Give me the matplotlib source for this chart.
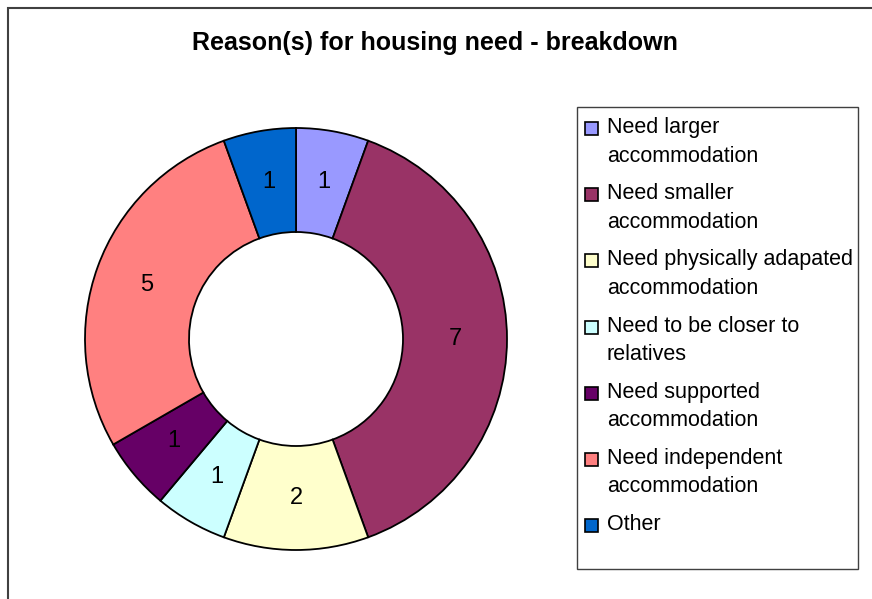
import numpy as np
import matplotlib.pyplot as plt
from matplotlib.patches import Rectangle

plt.rcParams['font.family'] = ['Liberation Sans', 'DejaVu Sans']

reasons = [
    "Need larger\naccommodation",
    "Need smaller\naccommodation",
    "Need physically adapated\naccommodation",
    "Need to be closer to\nrelatives",
    "Need supported\naccommodation",
    "Need independent\naccommodation",
    "Other",
]
counts = [1, 7, 2, 1, 1, 5, 1]
colours = ["#9999FF", "#993366", "#FFFFCC", "#CCFFFF", "#660066", "#FF8080", "#0066CC"]

W, H = 872, 599
fig = plt.figure(figsize=(W / 100, H / 100), dpi=100)


def fx(px):
    return px / W


def fy(py):
    # pixel rows are counted from the top
    return 1 - py / H


# chart area frame (runs off the right and bottom edges)
fig.patches.append(Rectangle((fx(8), -0.1), 1.2, fy(8) + 0.1,
                             transform=fig.transFigure, fill=False,
                             edgecolor="#404040", linewidth=1.5))

# donut
cx, cy, r_out, r_in = 296, 339, 211, 107
box = 215
ax = fig.add_axes([fx(cx - box), fy(cy + box), 2 * box / W, 2 * box / H])
wedges, _ = ax.pie(counts, colors=colours, startangle=90, counterclock=False,
                   radius=r_out / box,
                   wedgeprops=dict(width=(r_out - r_in) / box,
                                   edgecolor="black", linewidth=1.3))
ax.set_xlim(-1, 1)
ax.set_ylim(-1, 1)
ax.set_aspect("equal")

# value labels in the middle of each ring segment
total = sum(counts)
start = 90
r_mid = (r_out + r_in) / 2 / box
for c in counts:
    mid = np.deg2rad(start - 180 * c / total)
    ax.text(r_mid * np.cos(mid), r_mid * np.sin(mid), str(c),
            ha="center", va="center", fontsize=17)
    start -= 360 * c / total

fig.text(fx(435), fy(50), "Reason(s) for housing need - breakdown",
         ha="center", va="baseline", fontsize=18, fontweight="bold")

# legend
fig.patches.append(Rectangle((fx(577), fy(569)), (858 - 577) / W, (569 - 107) / H,
                             transform=fig.transFigure, facecolor="white",
                             edgecolor="#404040", linewidth=1))
for i, (label, col) in enumerate(zip(reasons, colours)):
    base = 133 + 66.2 * i
    fig.patches.append(Rectangle((fx(585), fy(base + 2)), 13 / W, 13 / H,
                                 transform=fig.transFigure, facecolor=col,
                                 edgecolor="black", linewidth=1.2))
    for j, line in enumerate(label.split("\n")):
        fig.text(fx(607), fy(base + 28.5 * j), line, ha="left", va="baseline",
                 fontsize=15.5)

fig.savefig("out.png", dpi=100)
